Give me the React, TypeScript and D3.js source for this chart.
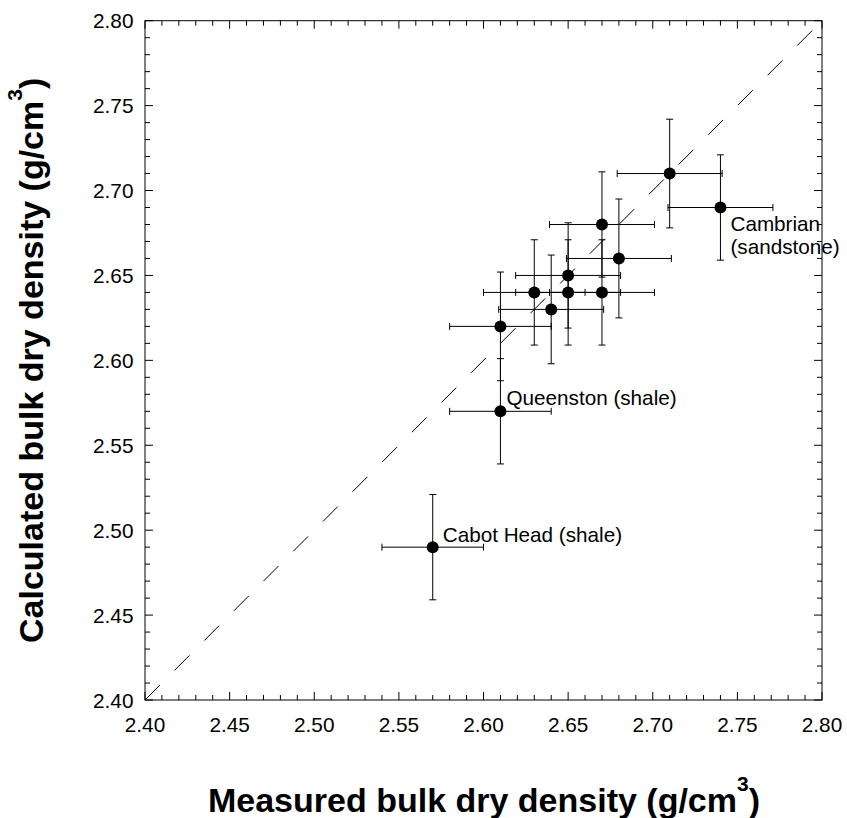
import React from "react";
import * as d3 from "d3";

const measured = [2.71, 2.74, 2.67, 2.68, 2.65, 2.63, 2.65, 2.67, 2.64, 2.61, 2.61, 2.57];
const calculated = [2.71, 2.69, 2.68, 2.66, 2.65, 2.64, 2.64, 2.64, 2.63, 2.62, 2.57, 2.49];
const measuredErr = [0.031, 0.031, 0.031, 0.031, 0.031, 0.03, 0.031, 0.031, 0.031, 0.03, 0.03, 0.03];
const calculatedErr = [0.032, 0.031, 0.031, 0.035, 0.031, 0.031, 0.031, 0.031, 0.032, 0.032, 0.031, 0.031];
const majorTicks = [2.4, 2.45, 2.5, 2.55, 2.6, 2.65, 2.7, 2.75, 2.8];
const minorTicks = d3.range(0, 41).map((i) => 2.4 + i * 0.01);

const annotations = [
  { index: 1, lines: ["Cambrian", "(sandstone)"], dx: 10, dy: 23 },
  { index: 10, lines: ["Queenston (shale)"], dx: 6, dy: -6 },
  { index: 11, lines: ["Cabot Head (shale)"], dx: 10, dy: -5.5 },
];

const W = 847;
const H = 818;
const left = 145;
const right = 822;
const top = 20.7;
const bottom = 700;

export default function App() {
  const x = d3.scaleLinear().domain([2.4, 2.8]).range([left, right]);
  const y = d3.scaleLinear().domain([2.4, 2.8]).range([bottom, top]);
  const font = "'Liberation Sans', Arial, sans-serif";
  const tickFs = 20.8;
  const cap = 3.5;
  const isMajor = (v: number) => majorTicks.some((m) => Math.abs(m - v) < 1e-6);
  const line = d3.line<[number, number]>().x((d) => x(d[0])).y((d) => y(d[1]));

  return (
    <svg width={W} height={H} style={{ position: "absolute", left: 0, top: 0, background: "#fff" }} fontFamily={font}>
      <rect x={0} y={0} width={W} height={H} fill="#fff" />
      {/* 1:1 line */}
      <path d={line([[2.4, 2.4], [2.8, 2.8]]) || ""} stroke="#000" strokeWidth={1} strokeDasharray="21 21" fill="none" />
      {/* ticks */}
      {minorTicks.map((v, i) => {
        const len = isMajor(v) ? 8 : 5;
        const px = x(v);
        const py = y(v);
        return (
          <g key={"t" + i} stroke="#000" strokeWidth={1}>
            <line x1={px} x2={px} y1={bottom} y2={bottom - len} />
            <line x1={px} x2={px} y1={top} y2={top + len} />
            <line x1={left} x2={left + len} y1={py} y2={py} />
            <line x1={right} x2={right - len} y1={py} y2={py} />
          </g>
        );
      })}
      <rect x={left} y={top} width={right - left} height={bottom - top} fill="none" stroke="#000" strokeWidth={1} />
      {/* tick labels */}
      {majorTicks.map((v, i) => (
        <g key={"l" + i} fontSize={tickFs} fill="#000">
          <text x={x(v)} y={731.7} textAnchor="middle">{v.toFixed(2)}</text>
          <text x={133.5} y={y(v) + 7.5} textAnchor="end">{v.toFixed(2)}</text>
        </g>
      ))}
      {/* error bars */}
      {measured.map((m, i) => {
        const c = calculated[i];
        const cx = x(m);
        const cy = y(c);
        const x0 = x(m - measuredErr[i]);
        const x1 = x(m + measuredErr[i]);
        const y0 = y(c - calculatedErr[i]);
        const y1 = y(c + calculatedErr[i]);
        return (
          <g key={"e" + i} stroke="#000" strokeWidth={1}>
            <line x1={x0} x2={x1} y1={cy} y2={cy} />
            <line x1={x0} x2={x0} y1={cy - cap} y2={cy + cap} />
            <line x1={x1} x2={x1} y1={cy - cap} y2={cy + cap} />
            <line x1={cx} x2={cx} y1={y0} y2={y1} />
            <line x1={cx - cap} x2={cx + cap} y1={y0} y2={y0} />
            <line x1={cx - cap} x2={cx + cap} y1={y1} y2={y1} />
          </g>
        );
      })}
      {measured.map((m, i) => (
        <circle key={"p" + i} cx={x(m)} cy={y(calculated[i])} r={6} fill="#000" />
      ))}
      {/* annotations */}
      {annotations.map((a, i) => (
        <g key={"a" + i} fontSize={20.7} fill="#000">
          {a.lines.map((t, j) => (
            <text key={j} x={x(measured[a.index]) + a.dx} y={y(calculated[a.index]) + a.dy + j * 23}>{t}</text>
          ))}
        </g>
      ))}
      {/* axis titles */}
      <text x={484} y={811.5} textAnchor="middle" fontSize={34} fontWeight="bold" fill="#000">
        Measured bulk dry density (g/cm<tspan fontSize={21} dy={-21}>3</tspan><tspan dy={21}>)</tspan>
      </text>
      <text transform={`translate(43.3, ${(top + bottom) / 2}) rotate(-90)`} textAnchor="middle" fontSize={34} fontWeight="bold" fill="#000">
        Calculated bulk dry density (g/cm<tspan fontSize={21} dy={-21}>3</tspan><tspan dy={21}>)</tspan>
      </text>
    </svg>
  );
}
